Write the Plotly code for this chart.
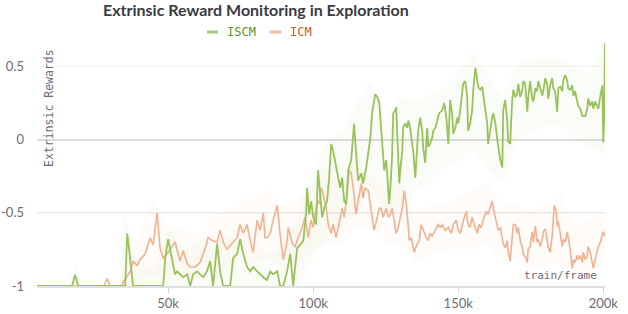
import plotly.graph_objects as go

# ---------------- data (frames in thousands) ----------------
iscm_k = [4.8, 16.9, 17.9, 19.0, 35.2, 35.9, 36.9, 37.9, 48.3, 49.0, 50.0, 51.4, 52.4, 53.1, 54.1, 55.2,
          56.6, 57.6, 58.6, 60.0, 61.0, 62.1, 63.4, 64.5, 65.5, 66.9, 67.9, 69.0, 71.4, 72.4, 73.8, 74.8,
          75.9, 77.2, 78.3, 79.3, 80.7, 81.7, 82.8, 84.1, 85.2, 86.2, 87.6, 88.6, 89.7, 91.0, 92.1, 93.1,
          94.5, 95.5, 96.6, 97.6, 97.9, 98.6, 99.3, 100.0, 101.0, 101.7, 102.4, 103.1, 103.8, 104.8, 105.5,
          106.2, 106.9, 107.6, 108.6, 109.3, 110.0, 110.7, 111.4, 112.1, 113.1, 113.8, 114.1, 114.5, 115.2,
          115.5, 116.6, 117.2, 118.3, 119.0, 119.7, 120.3, 121.4, 122.1, 122.8, 123.4, 124.1, 124.5, 125.2,
          125.5, 126.2, 126.6, 127.2, 127.6, 128.3, 128.6, 129.3, 129.7, 130.0, 130.7, 131.0, 131.7, 132.4,
          132.8, 133.4, 134.1, 134.5, 135.2, 135.9, 136.2, 136.9, 137.6, 137.9, 138.6, 139.3, 139.7, 140.3,
          141.0, 141.4, 142.1, 142.8, 143.4, 144.5, 145.2, 145.9, 146.6, 147.2, 147.9, 148.3, 149.0, 149.7,
          150.0, 150.7, 151.4, 151.7, 152.4, 153.1, 153.4, 154.1, 154.8, 155.2, 155.9, 156.6, 156.9, 157.6,
          158.3, 158.6, 159.3, 160.0, 160.3, 161.0, 161.7, 162.1, 162.8, 163.4, 163.8, 164.5, 165.2, 165.5,
          166.2, 166.9, 167.2, 167.9, 168.6, 169.0, 169.7, 170.3, 170.7, 171.4, 172.1, 172.4, 173.1, 173.8,
          174.1, 174.8, 175.5, 175.9, 176.6, 177.2, 177.6, 178.3, 179.0, 179.3, 180.0, 180.7, 181.0, 181.7,
          182.4, 182.8, 183.4, 184.1, 184.5, 185.2, 185.9, 186.2, 186.9, 187.6, 187.9, 188.6, 189.3, 189.7,
          190.3, 191.0, 191.4, 192.1, 192.8, 193.8, 194.5, 194.8, 195.5, 196.2, 196.6, 197.2, 197.9, 198.3,
          199.0, 199.7, 200.0, 200.3, 200.6]
iscm_val = [-1, -1, -0.925, -1, -1, -0.64, -0.81, -1, -1, -0.81, -0.68, -0.81, -0.92, -0.9, -0.92, -0.94,
            -0.92, -1, -0.92, -0.9, -0.92, -0.94, -0.9, -0.83, -1, -0.71, -0.9, -1, -1, -0.81, -0.78, -0.68,
            -0.78, -0.87, -0.9, -0.87, -0.9, -0.92, -0.94, -0.96, -0.9, -0.92, -0.9, -1, -1, -0.9, -0.78, -1,
            -0.74, -0.72, -0.69, -0.49, -0.33, -0.51, -0.42, -0.53, -0.58, -0.21, -0.37, -0.53, -0.47, -0.42, -0.26,
            -0.03, -0.08, -0.16, -0.26, -0.33, -0.26, -0.42, -0.44, -0.21, -0.14, 0.01, 0.11, -0.01, -0.21,
            -0.28, -0.23, -0.30, -0.19, -0.1, 0.01, 0.18, 0.31, 0.29, 0.25, 0.08, -0.08, -0.21, -0.14,
            -0.23, -0.44, -0.33, -0.12, 0.18, 0.2, 0.22, -0.1, -0.30, -0.21, -0.08, 0.08, 0.11, 0.08,
            0.13, 0.08, -0.03, -0.08, -0.26, -0.05, 0.06, 0.15, 0.06, -0.05, -0.16, 0.08, -0.05, -0.03,
            0.01, 0.06, 0.08, 0.13, 0.18, 0.2, 0.25, 0.15, -0.03, 0.27, 0.18, 0.04, 0.08, 0.15,
            0.11, 0.2, 0.34, 0.38, 0.4, 0.29, 0.06, 0.11, 0.2, 0.34, 0.49, 0.4, 0.36, 0.34,
            0.36, 0.31, 0.22, 0.11, -0.03, 0.08, 0.15, 0.18, 0.11, 0.01, -0.05, -0.14, -0.19, 0.2,
            0.27, 0.13, -0.01, -0.03, 0.27, 0.34, 0.29, 0.31, 0.38, 0.29, 0.34, 0.4, 0.38, 0.19,
            0.28, 0.4, 0.28, 0.26, 0.35, 0.33, 0.4, 0.35, 0.3, 0.33, 0.42, 0.37, 0.28, 0.37,
            0.42, 0.35, 0.33, 0.19, 0.35, 0.36, 0.33, 0.4, 0.44, 0.4, 0.35, 0.34, 0.37, 0.3,
            0.33, 0.26, 0.23, 0.21, 0.16, 0.16, 0.21, 0.28, 0.23, 0.26, 0.21, 0.26, 0.23, 0.21,
            0.3, 0.37, -0.02, 0.12, 0.66]

icm_k = [4.8, 27.9, 29.0, 30.0, 34.1, 34.5, 35.5, 36.9, 37.9, 39.3, 40.3, 42.1, 43.8, 44.8, 46.2, 47.2,
         48.3, 49.7, 50.7, 52.4, 54.1, 55.2, 56.6, 57.6, 59.3, 61.0, 62.8, 63.8, 65.2, 66.9, 67.9, 69.0,
         70.3, 71.4, 72.4, 73.8, 74.8, 75.9, 77.2, 78.3, 79.3, 80.7, 81.7, 82.8, 83.4, 84.1, 85.2, 86.2,
         87.6, 88.6, 89.7, 91.0, 91.4, 92.8, 93.8, 94.8, 96.2, 97.2, 98.3, 99.3, 100.0, 101.4, 102.1, 102.8,
         103.4, 104.5, 105.2, 106.2, 106.9, 107.9, 108.6, 109.3, 110.0, 110.7, 111.7, 112.4, 113.1, 113.8,
         114.8, 115.5, 116.6, 117.2, 117.9, 119.0, 119.7, 120.3, 121.0, 122.1, 122.8, 123.4, 124.1, 125.2,
         125.9, 126.6, 127.2, 127.9, 128.6, 129.3, 130.0, 130.7, 131.4, 132.1, 132.8, 133.1, 133.8, 134.5,
         134.8, 135.9, 136.6, 137.2, 137.9, 139.0, 139.7, 140.3, 141.0, 142.1, 143.1, 143.8, 144.5, 145.5,
         146.6, 147.6, 148.3, 149.3, 150.0, 150.7, 151.4, 152.1, 152.8, 153.4, 154.1, 154.8, 155.5, 156.6,
         157.2, 157.9, 158.6, 159.7, 160.3, 161.0, 161.7, 162.1, 162.8, 163.4, 163.8, 164.5, 165.2, 165.5,
         166.2, 166.9, 167.2, 167.9, 168.6, 169.0, 169.7, 170.3, 170.7, 171.4, 172.1, 172.4, 173.1, 173.8,
         174.1, 174.8, 175.5, 175.9, 176.6, 177.2, 177.6, 178.3, 179.0, 179.3, 180.0, 180.7, 181.0, 181.7,
         182.4, 182.8, 183.1, 183.8, 184.1, 184.5, 185.2, 185.9, 186.2, 186.9, 187.6, 187.9, 188.6, 189.3,
         189.7, 190.3, 191.0, 191.4, 192.1, 192.8, 193.1, 193.8, 194.5, 194.8, 195.5, 196.2, 196.6, 197.2,
         197.9, 198.3, 199.0, 199.7, 200.0, 200.6]
icm_val = [-1, -1, -0.95, -1, -1, -0.97, -0.945, -0.9, -0.83, -0.86, -0.82, -0.78, -0.67, -0.72, -0.5, -0.74,
           -0.81, -0.78, -0.75, -0.7, -0.83, -0.76, -0.85, -0.87, -0.87, -0.84, -0.74, -0.67, -0.69, -0.7, -0.62, -0.7,
           -0.75, -0.72, -0.7, -0.67, -0.58, -0.64, -0.58, -0.69, -0.77, -0.55, -0.62, -0.5, -0.67, -0.67, -0.64, -0.55,
           -0.45, -0.65, -0.82, -0.7, -0.6, -0.71, -0.73, -0.67, -0.6, -0.53, -0.67, -0.55, -0.6, -0.42, -0.44, -0.33,
           -0.37, -0.47, -0.58, -0.64, -0.58, -0.67, -0.6, -0.53, -0.47, -0.53, -0.37, -0.21, -0.23, -0.33,
           -0.51, -0.42, -0.30, -0.40, -0.33, -0.35, -0.44, -0.53, -0.62, -0.53, -0.47, -0.47, -0.53, -0.47,
           -0.53, -0.51, -0.47, -0.55, -0.64, -0.6, -0.53, -0.47, -0.35, -0.44, -0.6, -0.69, -0.67, -0.76,
           -0.77, -0.71, -0.69, -0.58, -0.62, -0.67, -0.69, -0.64, -0.66, -0.62, -0.58, -0.6, -0.58, -0.62,
           -0.6, -0.64, -0.58, -0.55, -0.62, -0.64, -0.58, -0.53, -0.49, -0.58, -0.6, -0.53, -0.58, -0.64,
           -0.58, -0.6, -0.55, -0.49, -0.51, -0.47, -0.42, -0.47, -0.53, -0.58, -0.62, -0.6, -0.67, -0.71,
           -0.74, -0.69, -0.76, -0.83, -0.67, -0.58, -0.58, -0.64, -0.6, -0.69, -0.74, -0.78, -0.8, -0.84,
           -0.75, -0.73, -0.63, -0.7, -0.59, -0.7, -0.68, -0.73, -0.68, -0.63, -0.61, -0.68, -0.73, -0.77,
           -0.66, -0.54, -0.45, -0.49, -0.59, -0.56, -0.66, -0.73, -0.68, -0.7, -0.63, -0.66, -0.75, -0.88,
           -0.82, -0.84, -0.79, -0.82, -0.79, -0.84, -0.77, -0.82, -0.79, -0.73, -0.77, -0.84, -0.88, -0.82,
           -0.77, -0.73, -0.7, -0.66, -0.63, -0.66]

# min/max envelopes (frames in thousands)
band_k = [5, 15, 18, 20, 33, 35, 38, 45, 50, 55, 60, 65, 70, 75, 80, 85, 90, 95, 100, 105, 110, 115,
          120, 125, 130, 135, 140, 145, 150, 155, 160, 165, 170, 175, 180, 185, 190, 195, 200.6]
iscm_hi = [-1, -1, -0.85, -1, -1, -0.45, -0.8, -0.9, -0.6, -0.75, -0.7, -0.65, -0.7, -0.55, -0.7, -0.8,
           -0.7, -0.5, -0.2, 0.0, 0.05, 0.25, 0.4, 0.1, 0.3, 0.25, 0.3, 0.35, 0.45, 0.6, 0.45, 0.3,
           0.5, 0.55, 0.55, 0.55, 0.5, 0.45, 0.66]
iscm_lo = [-1, -1, -1, -1, -1, -1, -1, -1, -1, -1, -1, -1, -1, -1, -1, -1, -1, -1, -0.8, -0.65, -0.6,
           -0.5, -0.3, -0.5, -0.45, -0.35, -0.3, -0.2, -0.15, -0.05, -0.2, -0.3, 0.0, 0.05, 0.1, 0.1,
           0.0, -0.05, -0.1]
icm_hi = [-1, -1, -1, -1, -1, -0.85, -0.75, -0.4, -0.6, -0.6, -0.65, -0.5, -0.5, -0.4, -0.4, -0.35,
          -0.45, -0.4, -0.3, -0.2, -0.3, -0.1, -0.25, -0.35, -0.25, -0.5, -0.45, -0.45, -0.4, -0.35, -0.3,
          -0.45, -0.45, -0.5, -0.45, -0.35, -0.6, -0.55, -0.5]
icm_lo = [-1, -1, -1, -1, -1, -1, -1, -0.92, -0.95, -0.95, -0.95, -0.85, -0.9, -0.8, -0.85, -0.8,
          -0.9, -0.85, -0.75, -0.7, -0.7, -0.6, -0.6, -0.7, -0.7, -0.85, -0.8, -0.75, -0.75, -0.75, -0.7,
          -0.85, -0.8, -0.9, -0.85, -0.85, -0.95, -0.95, -0.85]

x_tick_vals = [50000, 100000, 150000, 200000]
x_tick_text = ["50k", "100k", "150k", "200k"]
y_tick_vals = [-1, -0.5, 0, 0.5]
y_tick_text = ["-1", "-0.5", "0", "0.5"]

GREEN = "#98c35a"
ORANGE = "#f0b290"
GREY_TXT = "#6c6c78"

band_x = [k * 1000 for k in band_k]
fig = go.Figure()
# shaded bands
fig.add_trace(go.Scatter(x=band_x, y=icm_lo, mode="lines", line=dict(width=0), hoverinfo="skip",
                         showlegend=False))
fig.add_trace(go.Scatter(x=band_x, y=icm_hi, mode="lines", line=dict(width=0), fill="tonexty",
                         fillcolor="rgba(240,178,144,0.055)", hoverinfo="skip", showlegend=False))
fig.add_trace(go.Scatter(x=band_x, y=iscm_lo, mode="lines", line=dict(width=0), hoverinfo="skip",
                         showlegend=False))
fig.add_trace(go.Scatter(x=band_x, y=iscm_hi, mode="lines", line=dict(width=0), fill="tonexty",
                         fillcolor="rgba(152,195,90,0.05)", hoverinfo="skip", showlegend=False))
# lines
fig.add_trace(go.Scatter(x=[k * 1000 for k in icm_k], y=icm_val, mode="lines", name="ICM",
                         line=dict(color=ORANGE, width=1.6), showlegend=False))
fig.add_trace(go.Scatter(x=[k * 1000 for k in iscm_k], y=iscm_val, mode="lines", name="ISCM",
                         line=dict(color=GREEN, width=1.8), showlegend=False))

tick_font = dict(family="Lato", size=13, color=GREY_TXT)
mono = "DejaVu Sans Mono"

fig.update_layout(
    width=628, height=314,
    margin=dict(l=37, r=23, t=40, b=28),
    paper_bgcolor="white", plot_bgcolor="white",
    xaxis=dict(range=[4800, 200600], tickvals=x_tick_vals, ticktext=x_tick_text,
               ticks="outside", ticklen=5, tickcolor="#d6d6d6", tickwidth=1,
               showline=True, linecolor="#e0e0e0", linewidth=1.5, automargin=False,
               showgrid=False, zeroline=False, tickfont=tick_font),
    xaxis2=dict(range=[4800, 200600], overlaying="x", anchor="y", tickvals=x_tick_vals,
                ticks="inside", ticklen=5, tickcolor="#d6d6d6", tickwidth=1, automargin=False,
                showticklabels=False, showgrid=False, zeroline=False, showline=False),
    yaxis=dict(range=[-1, 0.68], tickvals=y_tick_vals, ticktext=y_tick_text, automargin=False,
               showgrid=False, zeroline=True, zerolinecolor="#dcdcdc", zerolinewidth=2,
               showline=False, ticks="", ticklabelstandoff=12, tickfont=tick_font),
    shapes=[
        dict(type="line", xref="paper", x0=0, x1=1, yref="y", y0=-0.5, y1=-0.5,
             line=dict(color="#e3e3e3", width=1), layer="below"),
        dict(type="line", xref="paper", x0=0, x1=1, yref="y", y0=0.5, y1=0.5,
             line=dict(color="#f8f1ea", width=1), layer="below"),
        # legend swatches
        dict(type="line", xref="paper", yref="paper", x0=0.2993, x1=0.3187, y0=1.0325, y1=1.0325,
             line=dict(color="#a4cf6b", width=3)),
        dict(type="line", xref="paper", yref="paper", x0=0.4102, x1=0.4296, y0=1.0325, y1=1.0325,
             line=dict(color="#f2b898", width=3)),
    ],
    annotations=[
        dict(text="<b>Extrinsic Reward Monitoring in Exploration</b>", xref="paper", yref="paper",
             x=0.3856, y=1.126, xanchor="center", yanchor="middle", showarrow=False,
             font=dict(family="Lato", size=16, color="#3a3a44")),
        dict(text="ISCM", xref="paper", yref="paper", x=0.331, y=1.0325, xanchor="left",
             yanchor="middle", showarrow=False, font=dict(family=mono, size=12, color="#619626")),
        dict(text="ICM", xref="paper", yref="paper", x=0.4419, y=1.0325, xanchor="left",
             yanchor="middle", showarrow=False, font=dict(family=mono, size=12, color="#c85a22")),
        dict(text="Extrinsic Rewards", xref="paper", yref="paper", x=0.0211, y=0.7236,
             xanchor="center", yanchor="middle", textangle=-90, showarrow=False,
             font=dict(family=mono, size=11.5, color=GREY_TXT)),
        dict(text="train/frame", xref="paper", yref="paper", x=0.9894, y=0.0447,
             xanchor="right", yanchor="middle", showarrow=False,
             font=dict(family=mono, size=11, color=GREY_TXT)),
    ],
)

fig.write_html("out.html", config={"displayModeBar": False},
               post_script="document.body.style.margin='0px';")
